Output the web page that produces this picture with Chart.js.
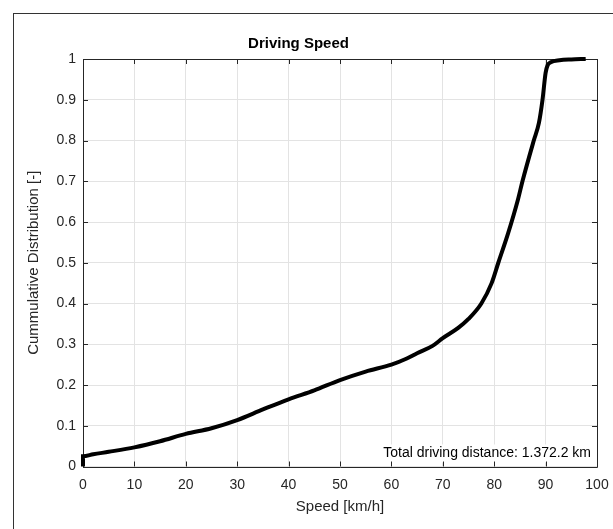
<!DOCTYPE html>
<html>
<head>
<meta charset="utf-8">
<script src="https://cdn.jsdelivr.net/npm/chart.js@4/dist/chart.umd.min.js"></script>
<style>
  html, body { margin: 0; padding: 0; background: #fff; overflow: hidden; }
  #wrap { position: relative; width: 613px; height: 529px; }
  #frame { position: absolute; left: 13px; top: 13px; width: 700px; height: 600px;
           border-left: 1px solid #333; border-top: 1px solid #333; }
  canvas { position: absolute; left: 0; top: 0; }
</style>
</head>
<body>
<div id="wrap">
  <div id="frame"></div>
  <canvas id="chart" width="613" height="529"></canvas>
</div>
<script>
const $ = id => document.getElementById(id);

// speed [km/h] vs cumulative share
const speed = [0, 0, 2, 5, 10, 15, 20, 25, 30, 35, 40, 45, 50, 55, 60, 63, 65, 68, 70, 73, 75,
  77.5, 79.5, 80.8, 82.7, 84.6, 85.5, 87.7, 88.7, 89.4, 90.0, 90.4, 91.0, 92.7, 95, 97.8];
const cdf = [0, 0.025, 0.03, 0.036, 0.047, 0.062, 0.080, 0.094, 0.114, 0.140, 0.165, 0.187, 0.212, 0.233, 0.250, 0.265, 0.278, 0.296, 0.315, 0.340, 0.362,
  0.400, 0.450, 0.500, 0.572, 0.654, 0.700, 0.800, 0.843, 0.900, 0.966, 0.985, 0.992, 0.997, 0.999, 1.0];
const xTicks = [0, 10, 20, 30, 40, 50, 60, 70, 80, 90, 100];
const yTicks = [0, 0.1, 0.2, 0.3, 0.4, 0.5, 0.6, 0.7, 0.8, 0.9, 1];
const note = "Total driving distance: 1.372.2 km";

const FONT = "'Liberation Sans', Arial, Helvetica, sans-serif";
const AX = "#262626";

const matlabBox = {
  id: "matlabBox",
  beforeDatasetsDraw(c) {
    const { ctx, chartArea: a, scales: { x, y } } = c;
    ctx.save();
    // note with white box
    ctx.font = `14px ${FONT}`;
    const w = ctx.measureText(note).width;
    const ty = y.getPixelForValue(0.032);
    ctx.fillStyle = "#fff";
    ctx.fillRect(a.right - 6 - w - 3, ty - 9, w + 6, 18);
    ctx.fillStyle = "#000";
    ctx.textAlign = "right";
    ctx.textBaseline = "middle";
    ctx.fillText(note, a.right - 6, ty);
    // axes box + inward ticks
    ctx.strokeStyle = AX;
    ctx.lineWidth = 1;
    ctx.beginPath();
    ctx.rect(Math.round(a.left) + 0.5, Math.round(a.top) + 0.5,
      Math.round(a.right - a.left), Math.round(a.bottom - a.top));
    xTicks.forEach(v => {
      const px = Math.round(x.getPixelForValue(v)) + 0.5;
      ctx.moveTo(px, a.bottom); ctx.lineTo(px, a.bottom - 5);
      ctx.moveTo(px, a.top); ctx.lineTo(px, a.top + 5);
    });
    yTicks.forEach(v => {
      const py = Math.round(y.getPixelForValue(v)) + 0.5;
      ctx.moveTo(a.left, py); ctx.lineTo(a.left + 5, py);
      ctx.moveTo(a.right, py); ctx.lineTo(a.right - 5, py);
    });
    ctx.stroke();
    ctx.restore();
  }
};

new Chart($("chart"), {
  type: "scatter",
  data: {
    datasets: [{
      data: speed.map((s, i) => ({ x: s, y: cdf[i] })),
      showLine: true,
      borderColor: "#000",
      borderWidth: 4,
      pointRadius: 0,
      cubicInterpolationMode: "monotone",
      clip: false
    }]
  },
  options: {
    responsive: false,
    animation: false,
    layout: { padding: { left: 0, right: 16, top: 35, bottom: 0 } },
    plugins: {
      legend: { display: false },
      tooltip: { enabled: false },
      title: {
        display: true,
        text: "Driving Speed",
        color: "#000",
        font: { family: FONT, size: 15, weight: "bold" },
        padding: { top: 0, bottom: 6 }
      }
    },
    scales: {
      x: {
        type: "linear",
        min: 0, max: 100,
        afterFit: s => { s.height = 62.5; s.paddingLeft = 0; s.paddingRight = 0; },
        afterBuildTicks: s => { s.ticks = xTicks.map(v => ({ value: v })); },
        grid: { color: "#e3e3e3", drawTicks: false },
        border: { display: false },
        ticks: { color: AX, font: { family: FONT, size: 14 }, padding: 10, maxRotation: 0 },
        title: {
          display: true, text: "Speed [km/h]", color: AX,
          font: { family: FONT, size: 15 }, padding: { top: 0, bottom: 13 }
        }
      },
      y: {
        type: "linear",
        min: 0, max: 1,
        afterFit: s => { s.width = 83; s.paddingTop = 0; s.paddingBottom = 0; },
        afterBuildTicks: s => { s.ticks = yTicks.map(v => ({ value: v })); },
        grid: { color: "#e3e3e3", drawTicks: false },
        border: { display: false },
        ticks: {
          color: AX, font: { family: FONT, size: 14 }, padding: 7,
          callback: v => String(Math.round(v * 10) / 10)
        },
        title: {
          display: true, text: "Cummulative Distribution [-]", color: AX,
          font: { family: FONT, size: 15 }, padding: { top: 25, bottom: 0 }
        }
      }
    }
  },
  plugins: [matlabBox]
});
</script>
</body>
</html>
